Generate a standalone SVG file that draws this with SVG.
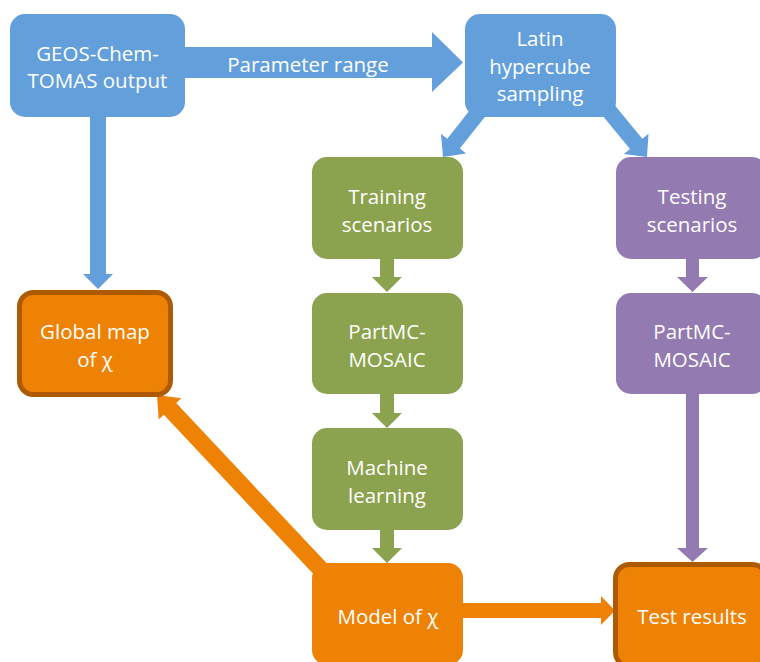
<svg xmlns="http://www.w3.org/2000/svg" width="760" height="662" viewBox="0 0 760 662">
<style>
.t{font-family:"Open Sans","Liberation Sans",sans-serif;font-size:20.5px;fill:#fff;text-anchor:middle}
.blue{fill:#63A0DB}
.green{fill:#8BA24E}
.purple{fill:#937AB1}
.orange{fill:#EE8204}
.bord{stroke:#AE5A02;stroke-width:5}
</style>
<rect width="760" height="662" fill="#fff"/>
<g id="connectors">
<polygon class="blue" points="185,47 432,47 432,32 463,62.5 432,92 432,78 185,78"/>
<polygon class="blue" points="90,117 106,117 106,274 113,274 98,289 83,274 90,274"/>
<polygon class="blue" transform="translate(443,157) rotate(128.3)" points="-74,-8 -17,-8 -17,-16 0,0 -17,16 -17,8 -74,8"/>
<polygon class="blue" transform="translate(647,157) rotate(50.5)" points="-74,-8 -17,-8 -17,-16 0,0 -17,16 -17,8 -74,8"/>
<polygon class="green" points="380,259 394,259 394,277 402,277 387,292 372,277 380,277"/>
<polygon class="green" points="380,394 394,394 394,413 402,413 387,428 372,413 380,413"/>
<polygon class="green" points="380,530 394,530 394,548 402,548 387,563 372,548 380,548"/>
<polygon class="purple" points="686,259 699,259 699,277 708,277 692.5,292 677,277 686,277"/>
<polygon class="purple" points="686,394 699,394 699,548 708,548 692.5,562 677,548 686,548"/>
<polygon class="orange" points="463,603 601,603 601,596 615,610.5 601,625 601,618 463,618"/>
<polygon class="orange" transform="translate(157,395) rotate(226.8)" points="-254,-8.5 -19,-8.5 -19,-15.5 0,0 -19,15.5 -19,8.5 -254,8.5"/>
</g>
<text class="t" x="308" y="72">Parameter range</text>
<g id="geos">
<rect class="blue" x="10" y="14" width="175" height="103" rx="15"/>
<text class="t" x="97.5" y="61">GEOS-Chem-</text>
<text class="t" x="97.5" y="88">TOMAS output</text>
</g>
<g id="latin">
<rect class="blue" x="465" y="14" width="151" height="103" rx="15"/>
<text class="t" x="540" y="46">Latin</text>
<text class="t" x="540" y="74">hypercube</text>
<text class="t" x="540" y="101">sampling</text>
</g>
<g id="training">
<rect class="green" x="312" y="157" width="151" height="102" rx="15"/>
<text class="t" x="387" y="204">Training</text>
<text class="t" x="387" y="232">scenarios</text>
</g>
<g id="partmc-train">
<rect class="green" x="312" y="293" width="151" height="101" rx="15"/>
<text class="t" x="387" y="339">PartMC-</text>
<text class="t" x="387" y="367">MOSAIC</text>
</g>
<g id="ml">
<rect class="green" x="312" y="428" width="151" height="102" rx="15"/>
<text class="t" x="387" y="475">Machine</text>
<text class="t" x="387" y="503">learning</text>
</g>
<g id="model">
<rect class="orange" x="312" y="563" width="151" height="102" rx="15"/>
<text class="t" x="388" y="624">Model of χ</text>
</g>
<g id="testing">
<rect class="purple" x="616" y="157" width="151" height="102" rx="15"/>
<text class="t" x="692" y="204">Testing</text>
<text class="t" x="692" y="232">scenarios</text>
</g>
<g id="partmc-test">
<rect class="purple" x="616" y="293" width="151" height="101" rx="15"/>
<text class="t" x="692" y="339">PartMC-</text>
<text class="t" x="692" y="367">MOSAIC</text>
</g>
<g id="global">
<rect class="orange bord" x="19.5" y="292.5" width="151" height="102" rx="14"/>
<text class="t" x="95" y="339">Global map</text>
<text class="t" x="95" y="367">of χ</text>
</g>
<g id="results">
<rect class="orange bord" x="615.5" y="564.5" width="151" height="102" rx="14"/>
<text class="t" x="692" y="624">Test results</text>
</g>
</svg>
